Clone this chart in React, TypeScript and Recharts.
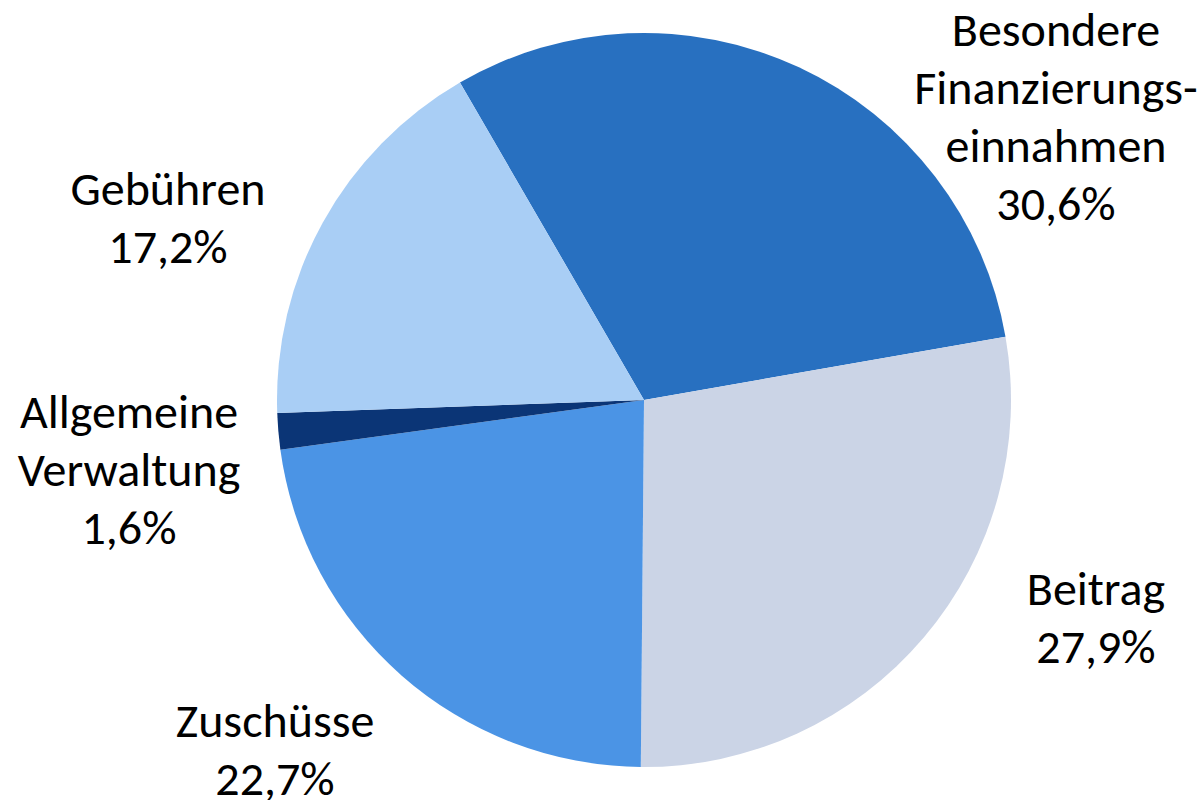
import { PieChart, Pie, Cell } from 'recharts';

// Einnahmenverteilung in Prozent
const categories = [
  'Besondere Finanzierungseinnahmen',
  'Beitrag',
  'Zuschüsse',
  'Allgemeine Verwaltung',
  'Gebühren',
];
const labelLines = [
  ['Besondere', 'Finanzierungs-', 'einnahmen'],
  ['Beitrag'],
  ['Zuschüsse'],
  ['Allgemeine', 'Verwaltung'],
  ['Gebühren'],
];
const shares = [30.6, 27.9, 22.7, 1.6, 17.2];

const COLORS = ['#2870C0', '#CBD4E6', '#4B94E5', '#0B3576', '#A9CEF5'];

// where each label block sits, relative to the pie centre (first baseline, centred text)
const LABEL_OFFSETS = [
  { dx: 412, dy: -354 },
  { dx: 452, dy: 205 },
  { dx: -369, dy: 337 },
  { dx: -515, dy: 28 },
  { dx: -476, dy: -195 },
];

const FONT = 'Carlito, Calibri, Lato, sans-serif';
const FONT_SIZE = 48;
const LINE_HEIGHT = 58;

const data = categories.map((name, i) => ({ name, value: shares[i] }));

const fmt = (v: number) => v.toFixed(1).replace('.', ',') + '%';

function renderLabel(props: any) {
  const { cx, cy, index, value } = props;
  const off = LABEL_OFFSETS[index];
  const x = cx + off.dx;
  const y = cy + off.dy;
  const lines = [...labelLines[index], fmt(value)];
  return (
    <text
      x={x}
      y={y}
      textAnchor="middle"
      fill="#000"
      fontFamily={FONT}
      fontSize={FONT_SIZE}
    >
      {lines.map((l, i) => (
        <tspan key={i} x={x} y={y + i * LINE_HEIGHT}>
          {l}
        </tspan>
      ))}
    </text>
  );
}

export default function App() {
  return (
    <div style={{ position: 'absolute', left: 0, top: 0, background: '#fff' }}>
      <PieChart width={1204} height={800} margin={{ top: 0, right: 0, bottom: 0, left: 0 }}>
        <Pie
          data={data}
          dataKey="value"
          nameKey="name"
          cx={644}
          cy={400}
          outerRadius={367}
          startAngle={120.1}
          endAngle={-239.9}
          stroke="none"
          label={renderLabel}
          labelLine={false}
          isAnimationActive={false}
        >
          {data.map((d, i) => (
            <Cell key={d.name} fill={COLORS[i]} />
          ))}
        </Pie>
      </PieChart>
    </div>
  );
}
